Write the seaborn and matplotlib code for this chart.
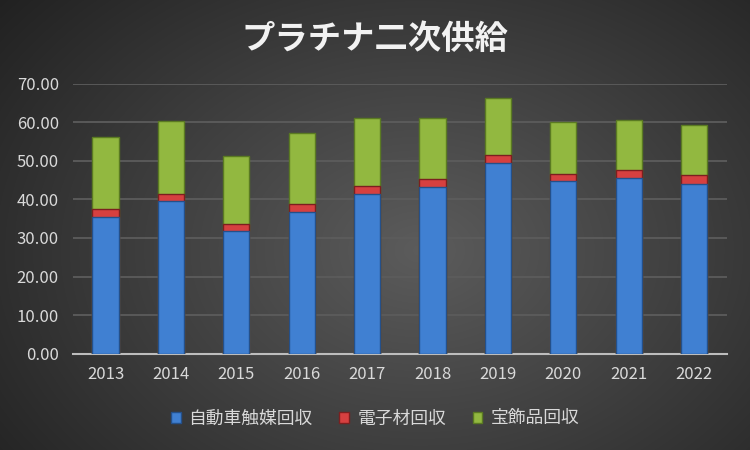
import numpy as np
import pandas as pd
import matplotlib
matplotlib.use("Agg")
import matplotlib.pyplot as plt
from matplotlib.patches import Patch
import seaborn as sns

years = ["2013", "2014", "2015", "2016", "2017", "2018", "2019", "2020", "2021", "2022"]
auto_catalyst = [35.5, 39.7, 31.9, 36.8, 41.5, 43.3, 49.4, 44.7, 45.5, 43.9]
electronics = [2.0, 1.8, 1.8, 2.1, 2.1, 2.1, 2.0, 2.0, 2.0, 2.4]
jewelry = [18.6, 18.8, 17.5, 18.3, 17.5, 15.7, 14.8, 13.3, 13.0, 13.0]
series_names = ["自動車触媒回収", "電子材回収", "宝飾品回収"]
y_ticks = [0, 10, 20, 30, 40, 50, 60, 70]

sns.set_theme(style="dark")
plt.rcParams["font.family"] = ["Noto Sans CJK JP", "DejaVu Sans"]

fig = plt.figure(figsize=(7.5, 4.5), dpi=100)

# radial dark background
bg = fig.add_axes([0, 0, 1, 1], zorder=-10)
yy, xx = np.mgrid[0:450, 0:750]
r = np.sqrt(((xx - 420) / 520.0) ** 2 + ((yy - 250) / 380.0) ** 2)
val = np.clip(0.36 - 0.22 * r, 0.13, 0.37)
bg.imshow(np.dstack([val, val, val]), aspect="auto", extent=[0, 1, 0, 1])
bg.axis("off")

ax = fig.add_axes([0.097, 0.214, 0.872, 0.6])
ax.set_facecolor("none")

df = pd.DataFrame({
    "year": years,
    "blue": auto_catalyst,
    "red": electronics,
    "green": jewelry,
})
df["c1"] = df["blue"]
df["c2"] = df["blue"] + df["red"]
df["c3"] = df["c2"] + df["green"]

colors = {"blue": "#4080d2", "red": "#d64040", "green": "#92b840"}
edges = {"blue": "#24508a", "red": "#7c1f1f", "green": "#5a7a22"}

sns.barplot(data=df, x="year", y="c3", color=colors["green"], width=0.4,
            edgecolor=edges["green"], linewidth=1.0, saturation=1, ax=ax, zorder=3)
sns.barplot(data=df, x="year", y="c2", color=colors["red"], width=0.4,
            edgecolor=edges["red"], linewidth=1.0, saturation=1, ax=ax, zorder=4)
sns.barplot(data=df, x="year", y="c1", color=colors["blue"], width=0.4,
            edgecolor=edges["blue"], linewidth=1.0, saturation=1, ax=ax, zorder=5)

ax.set_ylim(0, 70)
ax.set_xlim(-0.5, len(years) - 0.5)
ax.set_yticks(y_ticks)
ax.set_yticklabels([f"{v:.2f}" for v in y_ticks])
ax.set_xlabel("")
ax.set_ylabel("")
ax.grid(axis="y", color="#5c5c5c", linewidth=1.3, zorder=0)
ax.grid(axis="x", visible=False)
ax.set_axisbelow(True)
for s in ["top", "right", "left"]:
    ax.spines[s].set_visible(False)
ax.spines["bottom"].set_color("#bdbdbd")
ax.spines["bottom"].set_linewidth(1.5)
ax.tick_params(axis="both", colors="#d9d9d9", labelsize=12, length=0)
ax.tick_params(axis="x", pad=9)
ax.tick_params(axis="y", pad=10)

fig.text(0.5, 0.912, "プラチナ二次供給", ha="center", va="center",
         fontsize=24, fontweight="bold", color="#f2f2f2")

handles = [Patch(facecolor=colors[k], edgecolor=edges[k]) for k in ["blue", "red", "green"]]
fig.legend(handles, series_names, loc="center", bbox_to_anchor=(0.5, 0.07), ncol=3,
           frameon=False, fontsize=12.8, labelcolor="#d9d9d9", handlelength=0.55,
           handleheight=0.55, handletextpad=0.45, columnspacing=1.5)

fig.savefig("out.png", dpi=100)
